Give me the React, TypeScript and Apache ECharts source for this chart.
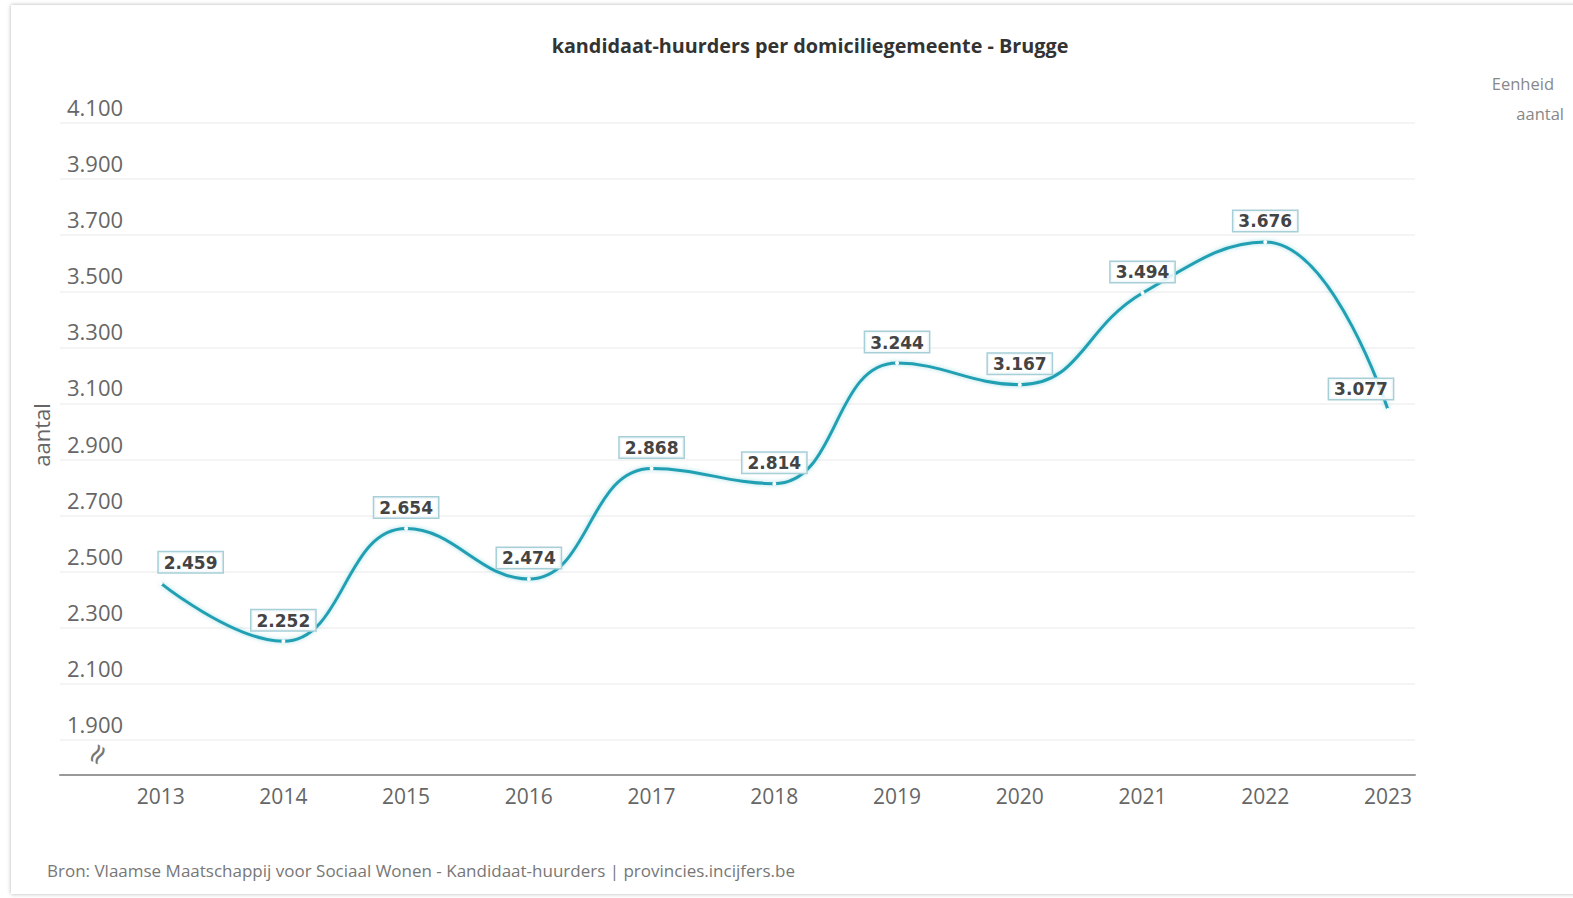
import React, { useEffect, useRef } from "react";
import * as echarts from "echarts";

const years = [2013, 2014, 2015, 2016, 2017, 2018, 2019, 2020, 2021, 2022, 2023];
const values = [2459, 2252, 2654, 2474, 2868, 2814, 3244, 3167, 3494, 3676, 3077];
const yTicks = [1900, 2100, 2300, 2500, 2700, 2900, 3100, 3300, 3500, 3700, 3900, 4100];
const titleText = "kandidaat-huurders per domiciliegemeente - Brugge";
const sourceText = "Bron: Vlaamse Maatschappij voor Sociaal Wonen - Kandidaat-huurders | provincies.incijfers.be";
const unitLabel = "Eenheid";
const unitValue = "aantal";

const fmt = (v: number) => {
  const s = Math.round(v).toString();
  return s.replace(/\B(?=(\d{3})+(?!\d))/g, ".");
};

export default function App() {
  const ref = useRef<HTMLDivElement>(null);
  useEffect(() => {
    if (!ref.current) return;
    const chart = echarts.init(ref.current, null, { renderer: "svg" });
    const font = "'Open Sans', Lato, sans-serif";
    const data = years.map((y, i) => {
      const item: any = { value: [y, values[i]] };
      if (i === 0) item.label = { offset: [30, 0] };
      if (i === years.length - 1) item.label = { offset: [-27, 0] };
      return item;
    });
    chart.setOption({
      animation: false,
      textStyle: { fontFamily: font },
      grid: { left: 60, right: 158, top: 95, bottom: 123 },
      xAxis: {
        type: "value",
        min: 2012.18,
        max: 2023.22,
        axisLine: { show: true, lineStyle: { color: "#999", width: 2 } },
        axisTick: { show: false, customValues: years },
        splitLine: { show: false },
        axisLabel: {
          customValues: years,
          formatter: (v: number) => String(v),
          color: "#666",
          fontSize: 21,
          margin: 10,
          fontFamily: font,
        },
      },
      yAxis: {
        type: "value",
        min: 1775,
        max: 4200,
        name: "aantal",
        nameLocation: "middle",
        nameGap: -4,
        nameTextStyle: { color: "#666", fontSize: 22, fontFamily: font },
        axisLine: { show: false },
        axisTick: { show: false, customValues: yTicks },
        splitLine: { show: true, lineStyle: { color: "#f0f0f0", width: 1.5 } },
        axisLabel: {
          customValues: yTicks,
          formatter: (v: number) => fmt(v),
          inside: true,
          margin: 7,
          verticalAlign: "bottom",
          lineHeight: 32,
          color: "#666",
          fontSize: 22,
          fontFamily: font,
        },
      },
      series: [
        {
          type: "line",
          data,
          smooth: 0.45,
          symbol: "circle",
          symbolSize: 4,
          itemStyle: { color: "#ffffff", borderWidth: 0 },
          lineStyle: {
            color: "#22a0b3",
            width: 3,
            shadowColor: "rgba(34,160,179,0.35)",
            shadowBlur: 4,
          },
          label: {
            show: true,
            position: "top",
            distance: 9,
            formatter: (p: any) => fmt(p.value[1]),
            color: "#444",
            fontWeight: "bold",
            fontSize: 17,
            fontFamily: "'DejaVu Sans', sans-serif",
            backgroundColor: "rgba(255,255,255,0.85)",
            borderColor: "#a7cfd8",
            borderWidth: 1.5,
            padding: [2, 5, 1, 5],
          },
          z: 3,
        },
      ],
      graphic: [
        {
          type: "text",
          x: 810,
          y: 45,
          style: {
            text: titleText,
            fill: "#333",
            font: `bold 19.8px ${font}`,
            textAlign: "center",
            textVerticalAlign: "middle",
          },
        },
        {
          type: "text",
          x: 1554,
          y: 83,
          style: {
            text: unitLabel,
            fill: "#888",
            font: `16.5px ${font}`,
            textAlign: "right",
            textVerticalAlign: "middle",
          },
        },
        {
          type: "text",
          x: 1564,
          y: 113,
          style: {
            text: unitValue,
            fill: "#888",
            font: `16.5px ${font}`,
            textAlign: "right",
            textVerticalAlign: "middle",
          },
        },
        {
          type: "text",
          x: 47,
          y: 870,
          style: {
            text: sourceText,
            fill: "#777",
            font: `17px ${font}`,
            textAlign: "left",
            textVerticalAlign: "middle",
          },
        },
        {
          type: "text",
          x: 97,
          y: 754,
          rotation: 1.05,
          style: {
            text: "≈",
            fill: "#777",
            font: `28px 'DejaVu Sans', sans-serif`,
            textAlign: "center",
            textVerticalAlign: "middle",
          },
        },
      ],
    });
    return () => chart.dispose();
  }, []);

  return (
    <div style={{ position: "fixed", left: 0, top: 0, width: 1573, height: 898, background: "#fff", overflow: "hidden" }}>
      <div
        style={{
          position: "absolute",
          left: 11,
          top: 5,
          width: 1620,
          height: 889,
          boxShadow: "0 0 4px rgba(0,0,0,0.3)",
          background: "#fff",
        }}
      />
      <div ref={ref} style={{ position: "absolute", left: 0, top: 0, width: 1573, height: 898 }} />
    </div>
  );
}
